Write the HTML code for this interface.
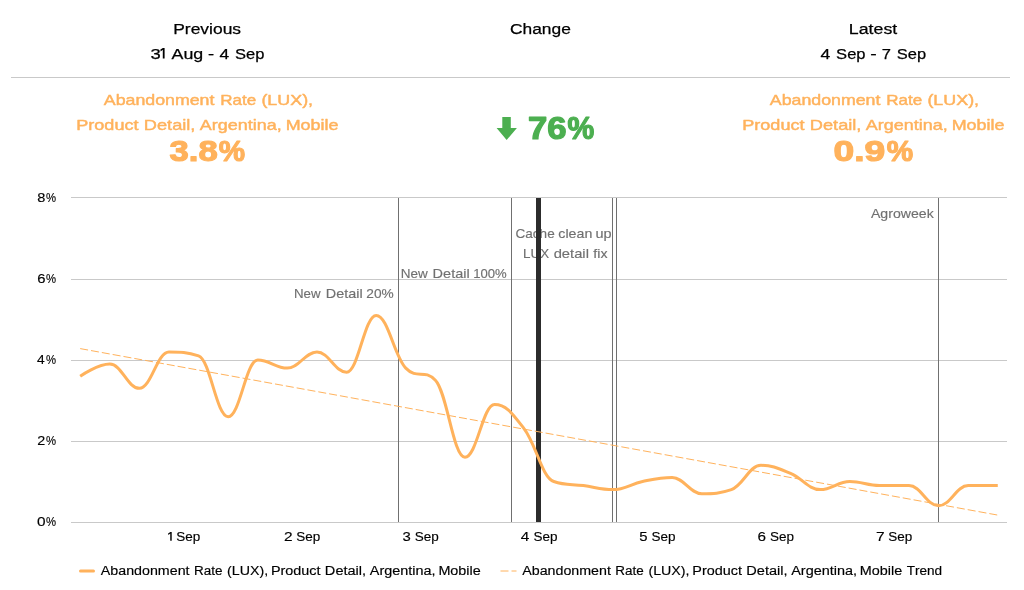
<!DOCTYPE html>
<html>
<head>
<meta charset="utf-8">
<title>Abandonment Rate (LUX)</title>
<style>
html,body{margin:0;padding:0;background:#fff;}
body{width:1024px;height:590px;overflow:hidden;}
svg{display:block;will-change:transform;font-family:"Liberation Sans",sans-serif;}
svg text{white-space:pre;font-kerning:none;}
</style>
</head>
<body>
<svg width="1024" height="590" viewBox="0 0 1024 590">
<rect x="0" y="0" width="1024" height="590" fill="#ffffff"/>
<rect x="11" y="77" width="999" height="1" fill="#c9c9c9"/>
<text x="173.19" y="33.80" font-size="15.50" fill="#000" font-weight="normal" textLength="67.91" lengthAdjust="spacingAndGlyphs" stroke="#000" stroke-width="0.25" stroke-linejoin="round">Previous</text>
<text x="150.42" y="58.60" font-size="15.50" fill="#000" font-weight="normal" textLength="10.26" lengthAdjust="spacingAndGlyphs" stroke="#000" stroke-width="0.25" stroke-linejoin="round">3</text>
<text x="171.59" y="58.60" font-size="15.50" fill="#000" font-weight="normal" textLength="31.68" lengthAdjust="spacingAndGlyphs" stroke="#000" stroke-width="0.25" stroke-linejoin="round">Aug</text>
<text x="208.06" y="58.60" font-size="15.50" fill="#000" font-weight="normal" textLength="6.14" lengthAdjust="spacingAndGlyphs" stroke="#000" stroke-width="0.25" stroke-linejoin="round">-</text>
<text x="219.48" y="58.60" font-size="15.50" fill="#000" font-weight="normal" textLength="9.66" lengthAdjust="spacingAndGlyphs" stroke="#000" stroke-width="0.25" stroke-linejoin="round">4</text>
<text x="234.97" y="58.60" font-size="15.50" fill="#000" font-weight="normal" textLength="29.39" lengthAdjust="spacingAndGlyphs" stroke="#000" stroke-width="0.25" stroke-linejoin="round">Sep</text>
<text x="510.04" y="33.80" font-size="15.50" fill="#000" font-weight="normal" textLength="60.80" lengthAdjust="spacingAndGlyphs" stroke="#000" stroke-width="0.25" stroke-linejoin="round">Change</text>
<text x="848.87" y="33.80" font-size="15.50" fill="#000" font-weight="normal" textLength="48.34" lengthAdjust="spacingAndGlyphs" stroke="#000" stroke-width="0.25" stroke-linejoin="round">Latest</text>
<text x="820.62" y="58.60" font-size="15.50" fill="#000" font-weight="normal" textLength="9.77" lengthAdjust="spacingAndGlyphs" stroke="#000" stroke-width="0.25" stroke-linejoin="round">4</text>
<text x="836.12" y="58.60" font-size="15.50" fill="#000" font-weight="normal" textLength="29.45" lengthAdjust="spacingAndGlyphs" stroke="#000" stroke-width="0.25" stroke-linejoin="round">Sep</text>
<text x="870.16" y="58.60" font-size="15.50" fill="#000" font-weight="normal" textLength="6.48" lengthAdjust="spacingAndGlyphs" stroke="#000" stroke-width="0.25" stroke-linejoin="round">-</text>
<text x="881.78" y="58.60" font-size="15.50" fill="#000" font-weight="normal" textLength="9.18" lengthAdjust="spacingAndGlyphs" stroke="#000" stroke-width="0.25" stroke-linejoin="round">7</text>
<text x="896.88" y="58.60" font-size="15.50" fill="#000" font-weight="normal" textLength="29.29" lengthAdjust="spacingAndGlyphs" stroke="#000" stroke-width="0.25" stroke-linejoin="round">Sep</text>
<polygon points="164.60,47.90 164.60,58.60 162.80,58.60 162.80,49.79 160.65,51.43 160.40,49.62 162.90,47.90" fill="#000"/>
<text x="103.79" y="104.70" font-size="15.00" fill="#ffb25c" font-weight="normal" textLength="110.61" lengthAdjust="spacingAndGlyphs" stroke="#ffb25c" stroke-width="0.45" stroke-linejoin="round">Abandonment</text>
<text x="220.23" y="104.70" font-size="15.00" fill="#ffb25c" font-weight="normal" textLength="35.90" lengthAdjust="spacingAndGlyphs" stroke="#ffb25c" stroke-width="0.45" stroke-linejoin="round">Rate</text>
<text x="261.42" y="104.70" font-size="15.00" fill="#ffb25c" font-weight="normal" textLength="51.67" lengthAdjust="spacingAndGlyphs" stroke="#ffb25c" stroke-width="0.45" stroke-linejoin="round">(LUX),</text>
<text x="76.24" y="129.60" font-size="15.00" fill="#ffb25c" font-weight="normal" textLength="62.26" lengthAdjust="spacingAndGlyphs" stroke="#ffb25c" stroke-width="0.45" stroke-linejoin="round">Product</text>
<text x="143.83" y="129.60" font-size="15.00" fill="#ffb25c" font-weight="normal" textLength="51.58" lengthAdjust="spacingAndGlyphs" stroke="#ffb25c" stroke-width="0.45" stroke-linejoin="round">Detail,</text>
<text x="199.79" y="129.60" font-size="15.00" fill="#ffb25c" font-weight="normal" textLength="81.90" lengthAdjust="spacingAndGlyphs" stroke="#ffb25c" stroke-width="0.45" stroke-linejoin="round">Argentina,</text>
<text x="285.66" y="129.60" font-size="15.00" fill="#ffb25c" font-weight="normal" textLength="52.71" lengthAdjust="spacingAndGlyphs" stroke="#ffb25c" stroke-width="0.45" stroke-linejoin="round">Mobile</text>
<text x="769.79" y="104.70" font-size="15.00" fill="#ffb25c" font-weight="normal" textLength="110.61" lengthAdjust="spacingAndGlyphs" stroke="#ffb25c" stroke-width="0.45" stroke-linejoin="round">Abandonment</text>
<text x="886.23" y="104.70" font-size="15.00" fill="#ffb25c" font-weight="normal" textLength="35.90" lengthAdjust="spacingAndGlyphs" stroke="#ffb25c" stroke-width="0.45" stroke-linejoin="round">Rate</text>
<text x="927.42" y="104.70" font-size="15.00" fill="#ffb25c" font-weight="normal" textLength="51.67" lengthAdjust="spacingAndGlyphs" stroke="#ffb25c" stroke-width="0.45" stroke-linejoin="round">(LUX),</text>
<text x="742.24" y="129.60" font-size="15.00" fill="#ffb25c" font-weight="normal" textLength="62.26" lengthAdjust="spacingAndGlyphs" stroke="#ffb25c" stroke-width="0.45" stroke-linejoin="round">Product</text>
<text x="809.83" y="129.60" font-size="15.00" fill="#ffb25c" font-weight="normal" textLength="51.58" lengthAdjust="spacingAndGlyphs" stroke="#ffb25c" stroke-width="0.45" stroke-linejoin="round">Detail,</text>
<text x="865.79" y="129.60" font-size="15.00" fill="#ffb25c" font-weight="normal" textLength="81.90" lengthAdjust="spacingAndGlyphs" stroke="#ffb25c" stroke-width="0.45" stroke-linejoin="round">Argentina,</text>
<text x="951.66" y="129.60" font-size="15.00" fill="#ffb25c" font-weight="normal" textLength="52.71" lengthAdjust="spacingAndGlyphs" stroke="#ffb25c" stroke-width="0.45" stroke-linejoin="round">Mobile</text>
<text x="169.60" y="160.50" font-size="30.30" fill="#ffb25c" font-weight="bold" textLength="48.16" lengthAdjust="spacingAndGlyphs" stroke="#ffb25c" stroke-width="1.20" stroke-linejoin="round">3.8</text>
<text x="218.86" y="160.50" font-size="30.30" fill="#ffb25c" font-weight="bold" textLength="26.32" lengthAdjust="spacingAndGlyphs" stroke="#ffb25c" stroke-width="1.20" stroke-linejoin="round">%</text>
<text x="833.53" y="160.50" font-size="30.30" fill="#ffb25c" font-weight="bold" textLength="51.75" lengthAdjust="spacingAndGlyphs" stroke="#ffb25c" stroke-width="1.20" stroke-linejoin="round">0.9</text>
<text x="886.76" y="160.50" font-size="30.30" fill="#ffb25c" font-weight="bold" textLength="26.42" lengthAdjust="spacingAndGlyphs" stroke="#ffb25c" stroke-width="1.20" stroke-linejoin="round">%</text>
<polygon points="502.3,117.1 510.8,117.1 510.8,127.9 516.9,127.9 506.65,140.1 496.6,127.9 502.3,127.9" fill="#4caf50"/>
<text x="528.01" y="138.60" font-size="30.60" fill="#4caf50" font-weight="bold" textLength="38.54" lengthAdjust="spacingAndGlyphs" stroke="#4caf50" stroke-width="1.20" stroke-linejoin="round">76</text>
<text x="567.45" y="138.60" font-size="30.60" fill="#4caf50" font-weight="bold" textLength="26.74" lengthAdjust="spacingAndGlyphs" stroke="#4caf50" stroke-width="1.20" stroke-linejoin="round">%</text>
<rect x="71" y="197" width="936" height="1" fill="#c9c9c9"/>
<rect x="71" y="279" width="936" height="1" fill="#c9c9c9"/>
<rect x="71" y="360" width="936" height="1" fill="#c9c9c9"/>
<rect x="71" y="441" width="936" height="1" fill="#c9c9c9"/>
<rect x="71" y="522" width="936" height="1" fill="#c9c9c9"/>
<text x="37.33" y="201.80" font-size="12.60" fill="#000" font-weight="normal" textLength="8.13" lengthAdjust="spacingAndGlyphs" stroke="#000" stroke-width="0.14" stroke-linejoin="round">8</text>
<text x="46.07" y="201.80" font-size="12.60" fill="#000" font-weight="normal" textLength="10.07" lengthAdjust="spacingAndGlyphs" stroke="#000" stroke-width="0.14" stroke-linejoin="round">%</text>
<text x="37.22" y="283.10" font-size="12.60" fill="#000" font-weight="normal" textLength="8.27" lengthAdjust="spacingAndGlyphs" stroke="#000" stroke-width="0.14" stroke-linejoin="round">6</text>
<text x="46.07" y="283.10" font-size="12.60" fill="#000" font-weight="normal" textLength="10.07" lengthAdjust="spacingAndGlyphs" stroke="#000" stroke-width="0.14" stroke-linejoin="round">%</text>
<text x="37.05" y="364.00" font-size="12.60" fill="#000" font-weight="normal" textLength="7.68" lengthAdjust="spacingAndGlyphs" stroke="#000" stroke-width="0.14" stroke-linejoin="round">4</text>
<text x="46.07" y="364.00" font-size="12.60" fill="#000" font-weight="normal" textLength="10.07" lengthAdjust="spacingAndGlyphs" stroke="#000" stroke-width="0.14" stroke-linejoin="round">%</text>
<text x="37.35" y="445.20" font-size="12.60" fill="#000" font-weight="normal" textLength="8.01" lengthAdjust="spacingAndGlyphs" stroke="#000" stroke-width="0.14" stroke-linejoin="round">2</text>
<text x="46.07" y="445.20" font-size="12.60" fill="#000" font-weight="normal" textLength="10.07" lengthAdjust="spacingAndGlyphs" stroke="#000" stroke-width="0.14" stroke-linejoin="round">%</text>
<text x="36.97" y="526.00" font-size="12.60" fill="#000" font-weight="normal" textLength="8.56" lengthAdjust="spacingAndGlyphs" stroke="#000" stroke-width="0.14" stroke-linejoin="round">0</text>
<text x="46.07" y="526.00" font-size="12.60" fill="#000" font-weight="normal" textLength="10.07" lengthAdjust="spacingAndGlyphs" stroke="#000" stroke-width="0.14" stroke-linejoin="round">%</text>
<polygon points="171.70,532.10 171.70,540.70 170.25,540.70 170.25,533.62 168.35,534.94 168.10,533.46 170.35,532.10" fill="#000"/>
<text x="176.16" y="540.70" font-size="12.60" fill="#000" font-weight="normal" textLength="24.04" lengthAdjust="spacingAndGlyphs" stroke="#000" stroke-width="0.14" stroke-linejoin="round">Sep</text>
<text x="283.99" y="540.70" font-size="12.60" fill="#000" font-weight="normal" textLength="8.62" lengthAdjust="spacingAndGlyphs" stroke="#000" stroke-width="0.14" stroke-linejoin="round">2</text>
<text x="296.36" y="540.70" font-size="12.60" fill="#000" font-weight="normal" textLength="24.04" lengthAdjust="spacingAndGlyphs" stroke="#000" stroke-width="0.14" stroke-linejoin="round">Sep</text>
<text x="402.60" y="540.70" font-size="12.60" fill="#000" font-weight="normal" textLength="8.28" lengthAdjust="spacingAndGlyphs" stroke="#000" stroke-width="0.14" stroke-linejoin="round">3</text>
<text x="414.76" y="540.70" font-size="12.60" fill="#000" font-weight="normal" textLength="24.04" lengthAdjust="spacingAndGlyphs" stroke="#000" stroke-width="0.14" stroke-linejoin="round">Sep</text>
<text x="520.87" y="540.70" font-size="12.60" fill="#000" font-weight="normal" textLength="8.56" lengthAdjust="spacingAndGlyphs" stroke="#000" stroke-width="0.14" stroke-linejoin="round">4</text>
<text x="533.51" y="540.70" font-size="12.60" fill="#000" font-weight="normal" textLength="24.04" lengthAdjust="spacingAndGlyphs" stroke="#000" stroke-width="0.14" stroke-linejoin="round">Sep</text>
<text x="639.37" y="540.70" font-size="12.60" fill="#000" font-weight="normal" textLength="8.28" lengthAdjust="spacingAndGlyphs" stroke="#000" stroke-width="0.14" stroke-linejoin="round">5</text>
<text x="651.56" y="540.70" font-size="12.60" fill="#000" font-weight="normal" textLength="24.04" lengthAdjust="spacingAndGlyphs" stroke="#000" stroke-width="0.14" stroke-linejoin="round">Sep</text>
<text x="757.59" y="540.70" font-size="12.60" fill="#000" font-weight="normal" textLength="8.51" lengthAdjust="spacingAndGlyphs" stroke="#000" stroke-width="0.14" stroke-linejoin="round">6</text>
<text x="769.96" y="540.70" font-size="12.60" fill="#000" font-weight="normal" textLength="24.04" lengthAdjust="spacingAndGlyphs" stroke="#000" stroke-width="0.14" stroke-linejoin="round">Sep</text>
<text x="875.97" y="540.70" font-size="12.60" fill="#000" font-weight="normal" textLength="8.64" lengthAdjust="spacingAndGlyphs" stroke="#000" stroke-width="0.14" stroke-linejoin="round">7</text>
<text x="888.36" y="540.70" font-size="12.60" fill="#000" font-weight="normal" textLength="24.04" lengthAdjust="spacingAndGlyphs" stroke="#000" stroke-width="0.14" stroke-linejoin="round">Sep</text>
<rect x="398" y="198" width="1" height="324" fill="#707070"/>
<rect x="511" y="198" width="1" height="324" fill="#707070"/>
<rect x="612" y="198" width="1" height="324" fill="#707070"/>
<rect x="616" y="198" width="1" height="324" fill="#707070"/>
<rect x="938" y="198" width="1" height="324" fill="#707070"/>
<text x="293.98" y="297.90" font-size="12.80" fill="#707070" font-weight="normal" textLength="26.61" lengthAdjust="spacingAndGlyphs" stroke="#707070" stroke-width="0.15" stroke-linejoin="round">New</text>
<text x="325.89" y="297.90" font-size="12.80" fill="#707070" font-weight="normal" textLength="36.79" lengthAdjust="spacingAndGlyphs" stroke="#707070" stroke-width="0.15" stroke-linejoin="round">Detail</text>
<text x="366.39" y="297.90" font-size="12.80" fill="#707070" font-weight="normal" textLength="27.43" lengthAdjust="spacingAndGlyphs" stroke="#707070" stroke-width="0.15" stroke-linejoin="round">20%</text>
<text x="400.67" y="277.90" font-size="12.80" fill="#707070" font-weight="normal" textLength="27.03" lengthAdjust="spacingAndGlyphs" stroke="#707070" stroke-width="0.15" stroke-linejoin="round">New</text>
<text x="432.58" y="277.90" font-size="12.80" fill="#707070" font-weight="normal" textLength="37.11" lengthAdjust="spacingAndGlyphs" stroke="#707070" stroke-width="0.15" stroke-linejoin="round">Detail</text>
<text x="473.18" y="277.90" font-size="12.80" fill="#707070" font-weight="normal" textLength="33.52" lengthAdjust="spacingAndGlyphs" stroke="#707070" stroke-width="0.15" stroke-linejoin="round">100%</text>
<text x="515.49" y="237.60" font-size="12.80" fill="#707070" font-weight="normal" textLength="39.24" lengthAdjust="spacingAndGlyphs" stroke="#707070" stroke-width="0.15" stroke-linejoin="round">Cache</text>
<text x="558.37" y="237.60" font-size="12.80" fill="#707070" font-weight="normal" textLength="33.98" lengthAdjust="spacingAndGlyphs" stroke="#707070" stroke-width="0.15" stroke-linejoin="round">clean</text>
<text x="595.54" y="237.60" font-size="12.80" fill="#707070" font-weight="normal" textLength="16.10" lengthAdjust="spacingAndGlyphs" stroke="#707070" stroke-width="0.15" stroke-linejoin="round">up</text>
<text x="523.08" y="257.50" font-size="12.80" fill="#707070" font-weight="normal" textLength="26.03" lengthAdjust="spacingAndGlyphs" stroke="#707070" stroke-width="0.15" stroke-linejoin="round">LUX</text>
<text x="553.66" y="257.50" font-size="12.80" fill="#707070" font-weight="normal" textLength="35.26" lengthAdjust="spacingAndGlyphs" stroke="#707070" stroke-width="0.15" stroke-linejoin="round">detail</text>
<text x="593.37" y="257.50" font-size="12.80" fill="#707070" font-weight="normal" textLength="14.20" lengthAdjust="spacingAndGlyphs" stroke="#707070" stroke-width="0.15" stroke-linejoin="round">fix</text>
<text x="870.95" y="217.60" font-size="12.80" fill="#707070" font-weight="normal" textLength="62.76" lengthAdjust="spacingAndGlyphs" stroke="#707070" stroke-width="0.15" stroke-linejoin="round">Agroweek</text>
<rect x="536" y="198" width="5" height="324" fill="#2c2c2c"/>
<path d="M 80.18 348.6 L 997.78 515.1" stroke="#ffb25c" stroke-width="1" stroke-dasharray="8,3" fill="none"/>
<path d="M 80.18 376.20 C 80.18 376.20 97.94 364.05 109.78 364.05 C 121.62 364.05 127.54 388.35 139.38 388.35 C 151.22 388.35 157.14 351.90 168.98 351.90 C 180.82 351.90 186.74 351.90 198.58 355.95 C 210.42 360.00 216.34 416.70 228.18 416.70 C 240.02 416.70 245.94 360.00 257.78 360.00 C 269.62 360.00 275.54 368.10 287.38 368.10 C 299.22 368.10 305.14 351.90 316.98 351.90 C 328.82 351.90 334.74 372.15 346.58 372.15 C 358.42 372.15 364.34 315.45 376.18 315.45 C 388.02 315.45 393.94 355.95 405.78 368.10 C 417.62 380.25 423.54 368.10 435.38 380.25 C 447.22 392.40 453.14 457.20 464.98 457.20 C 476.82 457.20 482.74 404.55 494.58 404.55 C 506.42 404.55 512.34 413.46 524.18 428.85 C 536.02 444.24 541.94 477.45 553.78 481.50 C 565.62 485.55 571.54 483.93 583.38 485.55 C 595.22 487.17 601.14 489.60 612.98 489.60 C 624.82 489.60 630.74 483.93 642.58 481.50 C 654.42 479.07 660.34 477.45 672.18 477.45 C 684.02 477.45 689.94 493.65 701.78 493.65 C 713.62 493.65 719.54 493.65 731.38 489.60 C 743.22 485.55 749.14 465.30 760.98 465.30 C 772.82 465.30 778.74 468.54 790.58 473.40 C 802.42 478.26 808.34 489.60 820.18 489.60 C 832.02 489.60 837.94 481.50 849.78 481.50 C 861.62 481.50 867.54 485.55 879.38 485.55 C 891.22 485.55 897.14 485.55 908.98 485.55 C 920.82 485.55 926.74 505.80 938.58 505.80 C 950.42 505.80 956.34 485.55 968.18 485.55 C 980.02 485.55 997.78 485.55 997.78 485.55" stroke="#ffb25c" stroke-width="3" fill="none" stroke-linejoin="round" stroke-linecap="butt"/>
<path d="M 80.5 571 L 93.5 571" stroke="#ffb25c" stroke-width="3" fill="none" stroke-linecap="round"/>
<text x="100.85" y="574.80" font-size="12.50" fill="#000" font-weight="normal" textLength="88.67" lengthAdjust="spacingAndGlyphs" stroke="#000" stroke-width="0.16" stroke-linejoin="round">Abandonment</text>
<text x="193.98" y="574.80" font-size="12.50" fill="#000" font-weight="normal" textLength="28.44" lengthAdjust="spacingAndGlyphs" stroke="#000" stroke-width="0.16" stroke-linejoin="round">Rate</text>
<text x="227.00" y="574.80" font-size="12.50" fill="#000" font-weight="normal" textLength="41.10" lengthAdjust="spacingAndGlyphs" stroke="#000" stroke-width="0.16" stroke-linejoin="round">(LUX),</text>
<text x="270.90" y="574.80" font-size="12.50" fill="#000" font-weight="normal" textLength="49.63" lengthAdjust="spacingAndGlyphs" stroke="#000" stroke-width="0.16" stroke-linejoin="round">Product</text>
<text x="324.89" y="574.80" font-size="12.50" fill="#000" font-weight="normal" textLength="41.24" lengthAdjust="spacingAndGlyphs" stroke="#000" stroke-width="0.16" stroke-linejoin="round">Detail,</text>
<text x="369.85" y="574.80" font-size="12.50" fill="#000" font-weight="normal" textLength="65.76" lengthAdjust="spacingAndGlyphs" stroke="#000" stroke-width="0.16" stroke-linejoin="round">Argentina,</text>
<text x="438.40" y="574.80" font-size="12.50" fill="#000" font-weight="normal" textLength="42.36" lengthAdjust="spacingAndGlyphs" stroke="#000" stroke-width="0.16" stroke-linejoin="round">Mobile</text>
<path d="M 500.5 571 L 516.5 571" stroke="#ffb25c" stroke-width="1" stroke-dasharray="8,3" fill="none"/>
<text x="522.25" y="574.80" font-size="12.50" fill="#000" font-weight="normal" textLength="88.67" lengthAdjust="spacingAndGlyphs" stroke="#000" stroke-width="0.16" stroke-linejoin="round">Abandonment</text>
<text x="615.38" y="574.80" font-size="12.50" fill="#000" font-weight="normal" textLength="28.44" lengthAdjust="spacingAndGlyphs" stroke="#000" stroke-width="0.16" stroke-linejoin="round">Rate</text>
<text x="648.40" y="574.80" font-size="12.50" fill="#000" font-weight="normal" textLength="41.10" lengthAdjust="spacingAndGlyphs" stroke="#000" stroke-width="0.16" stroke-linejoin="round">(LUX),</text>
<text x="692.30" y="574.80" font-size="12.50" fill="#000" font-weight="normal" textLength="49.63" lengthAdjust="spacingAndGlyphs" stroke="#000" stroke-width="0.16" stroke-linejoin="round">Product</text>
<text x="746.29" y="574.80" font-size="12.50" fill="#000" font-weight="normal" textLength="41.24" lengthAdjust="spacingAndGlyphs" stroke="#000" stroke-width="0.16" stroke-linejoin="round">Detail,</text>
<text x="791.25" y="574.80" font-size="12.50" fill="#000" font-weight="normal" textLength="65.76" lengthAdjust="spacingAndGlyphs" stroke="#000" stroke-width="0.16" stroke-linejoin="round">Argentina,</text>
<text x="859.80" y="574.80" font-size="12.50" fill="#000" font-weight="normal" textLength="42.36" lengthAdjust="spacingAndGlyphs" stroke="#000" stroke-width="0.16" stroke-linejoin="round">Mobile</text>
<text x="906.68" y="574.80" font-size="12.50" fill="#000" font-weight="normal" textLength="35.42" lengthAdjust="spacingAndGlyphs" stroke="#000" stroke-width="0.16" stroke-linejoin="round">Trend</text>
</svg>
</body>
</html>
